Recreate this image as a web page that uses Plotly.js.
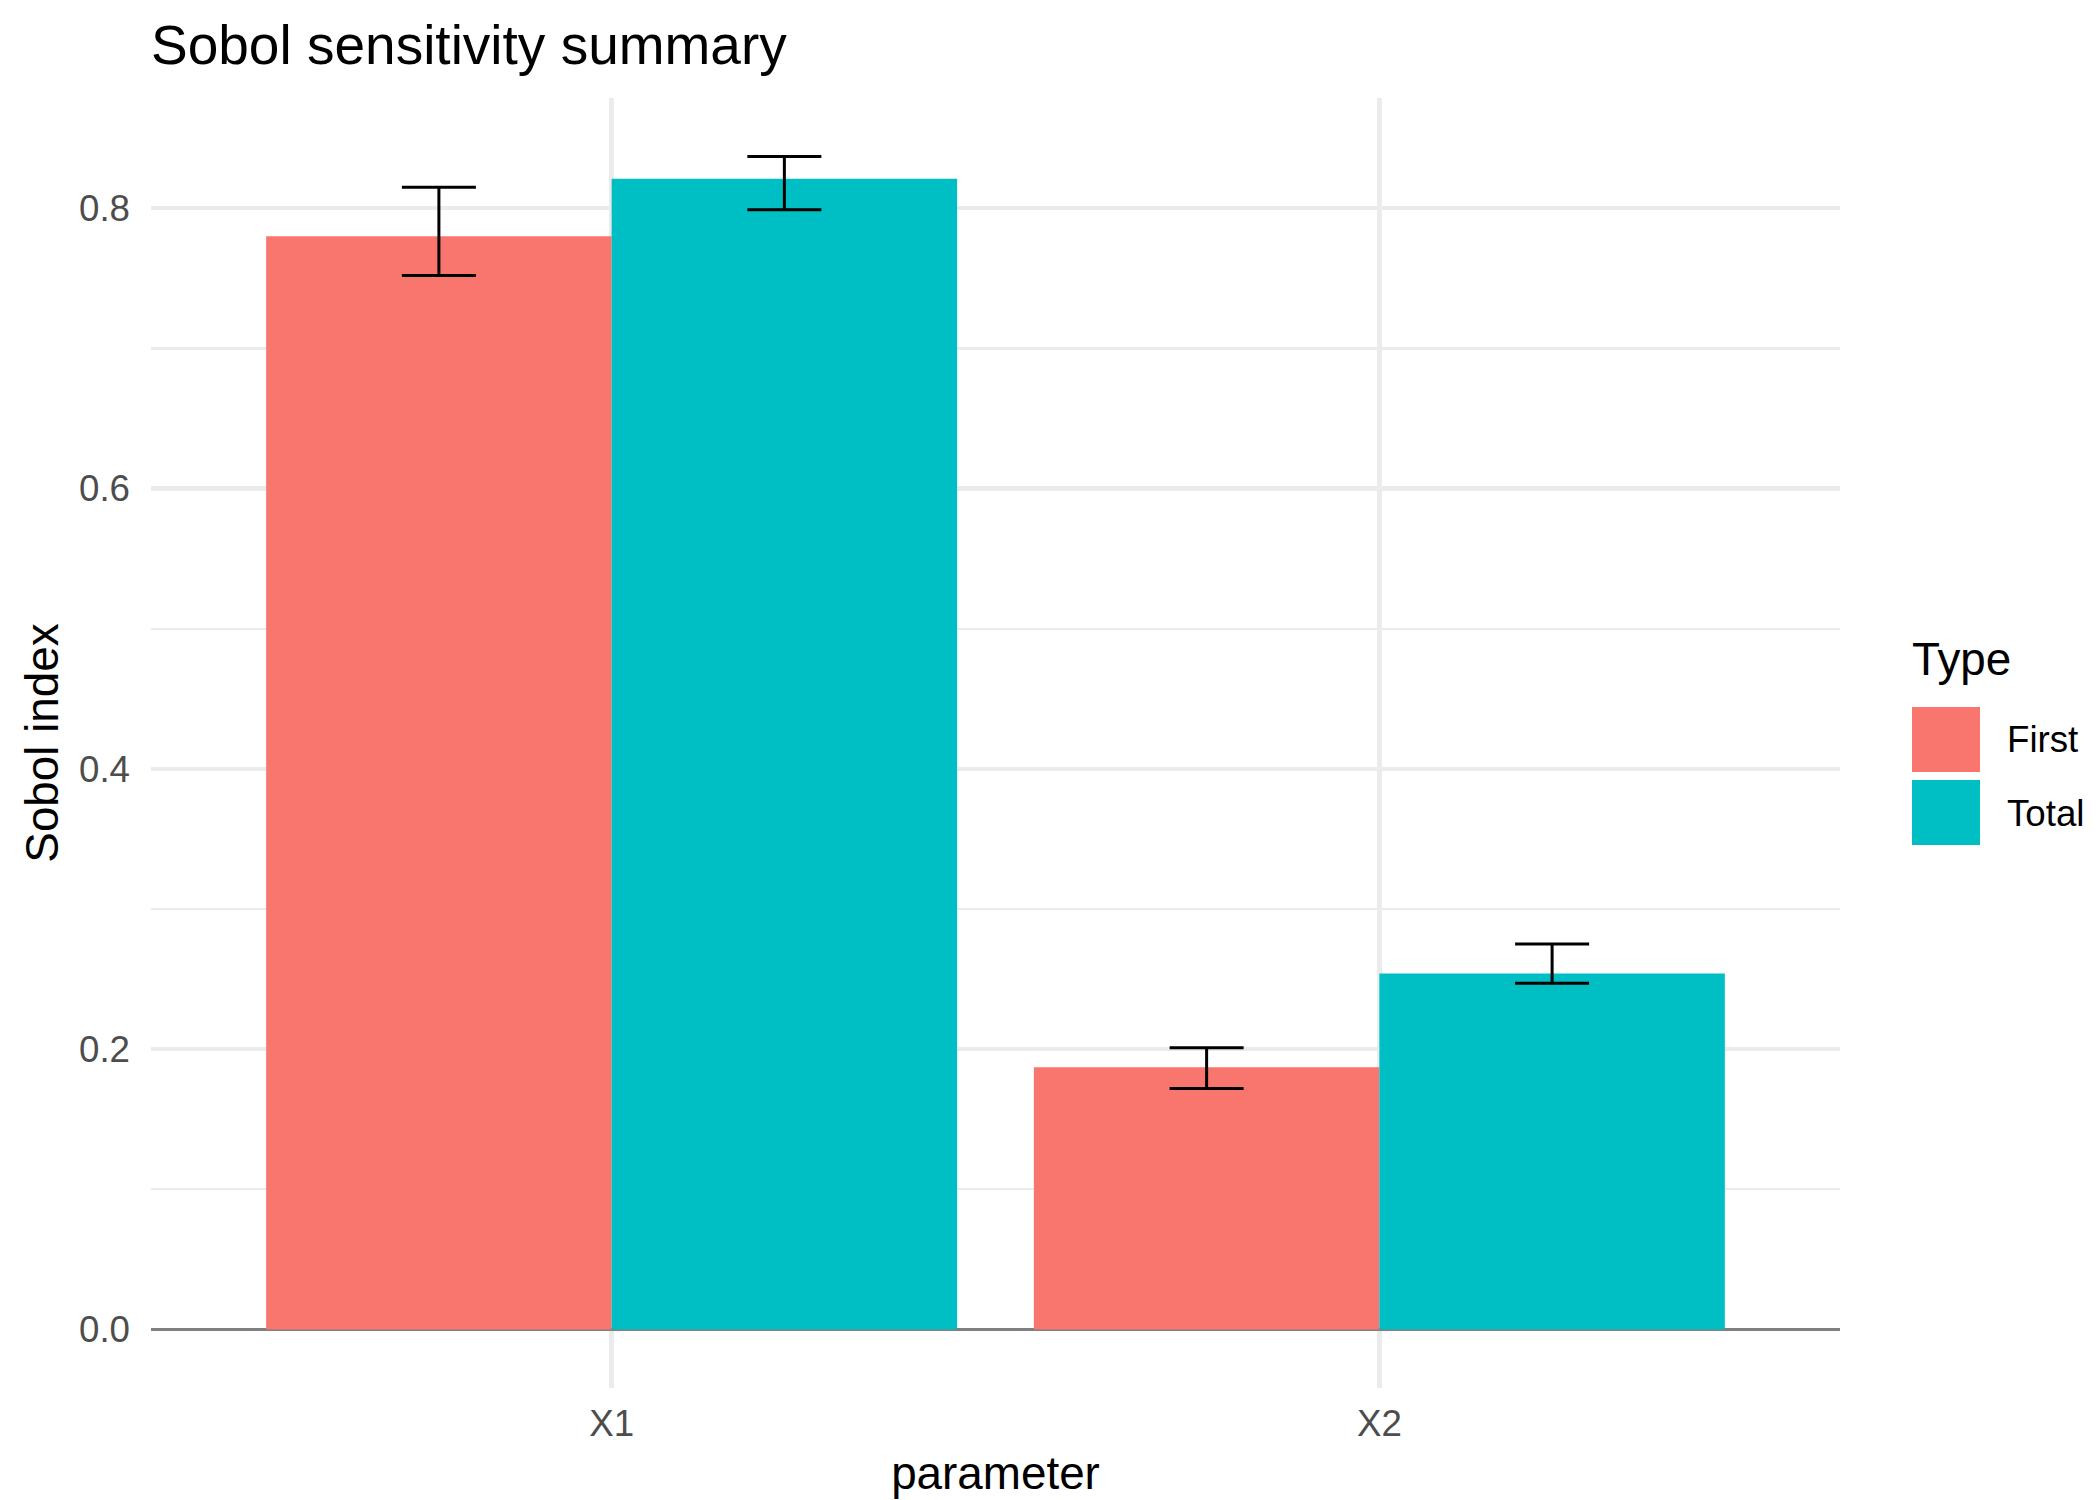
<!DOCTYPE html>
<html>
<head>
<meta charset="utf-8">
<script src="https://cdn.plot.ly/plotly-3.0.1.min.js"></script>
<style>html,body{margin:0;padding:0;background:#fff;}#chart{width:2100px;height:1500px;}</style>
</head>
<body>
<div id="chart"></div>
<script>
// ---- data ----
const parameters = ['X1', 'X2'];
const seriesNames = ['First', 'Total'];
const seriesColors = ['#F8766D', '#00BFC4'];
const firstIndex = [0.780, 0.187];
const firstLower = [0.752, 0.172];
const firstUpper = [0.815, 0.201];
const totalIndex = [0.821, 0.254];
const totalLower = [0.799, 0.247];
const totalUpper = [0.837, 0.275];
const yTickVals = [0, 0.2, 0.4, 0.6, 0.8];
const yTickText = ['0.0', '0.2', '0.4', '0.6', '0.8'];

// ---- layout constants ----
const W = 2100, H = 1500;
const M = {l: 151, r: 260, t: 98, b: 112};
const PW = W - M.l - M.r, PH = H - M.t - M.b;
const FONT = 'Liberation Sans, Arial, sans-serif';

function errTrace(name, color, vals, lo, hi) {
  return {
    type: 'bar', name: name, x: parameters, y: vals,
    marker: {color: color, line: {width: 0}},
    showlegend: false, hoverinfo: 'x+y+name',
    error_y: {
      type: 'data', symmetric: false,
      array: vals.map((v, i) => hi[i] - v),
      arrayminus: vals.map((v, i) => v - lo[i]),
      color: '#000000', thickness: 3, width: 37, visible: true
    }
  };
}

const traces = [
  errTrace(seriesNames[0], seriesColors[0], firstIndex, firstLower, firstUpper),
  errTrace(seriesNames[1], seriesColors[1], totalIndex, totalLower, totalUpper)
];

// custom legend (ggplot style, large keys) in paper coords
function px2x(px) { return (px - M.l) / PW; }
function py2y(py) { return (M.t + PH - py) / PH; }
const shapes = [];
const annotations = [];
const keyX0 = 1912, keyX1 = 1980, keyTop = 707, keyH = 68, keyStep = 73;
seriesNames.forEach((n, i) => {
  const top = keyTop + i * keyStep;
  shapes.push({type: 'rect', xref: 'paper', yref: 'paper',
    x0: px2x(keyX0), x1: px2x(keyX1), y0: py2y(top + keyH - 3), y1: py2y(top),
    fillcolor: seriesColors[i], line: {width: 0}});
  annotations.push({xref: 'paper', yref: 'paper', x: px2x(2005), y: py2y(top + keyH / 2 - 1),
    xanchor: 'left', yanchor: 'middle', text: n, showarrow: false,
    font: {family: FONT, size: 36.7, color: '#000000'}});
});
annotations.push({xref: 'paper', yref: 'paper', x: px2x(1910), y: py2y(660),
  xanchor: 'left', yanchor: 'middle', text: 'Type', showarrow: false,
  font: {family: FONT, size: 45.8, color: '#000000'}});

const layout = {
  width: W, height: H,
  margin: M,
  paper_bgcolor: '#ffffff', plot_bgcolor: '#ffffff',
  font: {family: FONT, color: '#000000'},
  title: {text: 'Sobol sensitivity summary', x: M.l / W, xanchor: 'left', xref: 'container',
    y: 1 - 45 / H, yref: 'container', yanchor: 'middle',
    font: {family: FONT, size: 55, color: '#000000'}},
  barmode: 'group', bargap: 0.1, bargroupgap: 0,
  showlegend: false,
  xaxis: {
    type: 'category', range: [-0.6, 1.6],
    showgrid: true, gridcolor: '#EBEBEB', gridwidth: 4.3,
    showline: false, zeroline: false, ticks: '',
    ticklabelstandoff: 10,
    tickfont: {family: FONT, size: 36.7, color: '#4D4D4D'},
    title: {text: 'parameter', font: {family: FONT, size: 45.8, color: '#000000'}, standoff: 14}
  },
  yaxis: {
    range: [-0.0418, 0.8787],
    tickvals: yTickVals, ticktext: yTickText,
    showgrid: true, gridcolor: '#EBEBEB', gridwidth: 4.3,
    minor: {dtick: 0.1, tick0: 0, showgrid: true, gridcolor: '#EBEBEB', gridwidth: 2.2, ticks: ''},
    zeroline: true, zerolinecolor: '#808080', zerolinewidth: 3.5,
    showline: false, ticks: '',
    ticklabelstandoff: 20,
    tickfont: {family: FONT, size: 36.7, color: '#4D4D4D'},
    title: {text: 'Sobol index', font: {family: FONT, size: 45.8, color: '#000000'}, standoff: 5}
  },
  shapes: shapes,
  annotations: annotations
};

Plotly.newPlot('chart', traces, layout, {displayModeBar: false, staticPlot: true});
</script>
</body>
</html>
